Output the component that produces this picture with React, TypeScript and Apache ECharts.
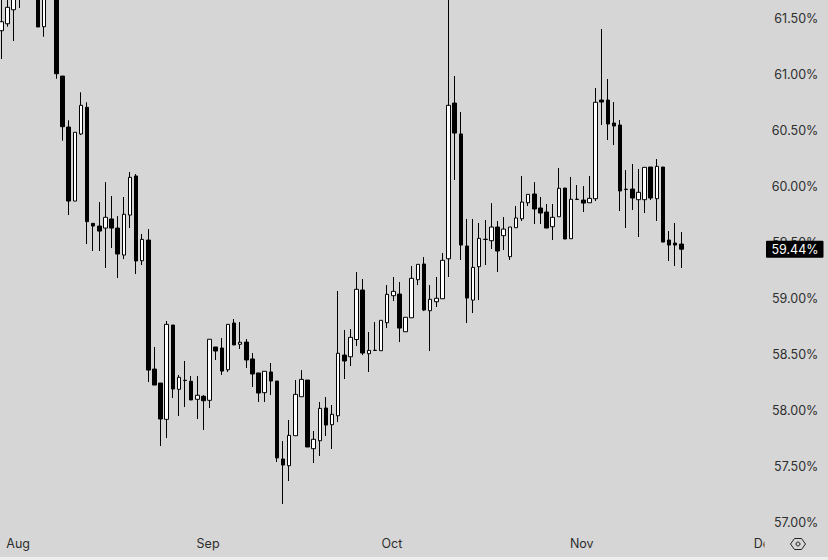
import { useEffect, useRef } from 'react'
import * as echarts from 'echarts'

const monthNames = ['Jul', 'Aug', 'Sep', 'Oct', 'Nov', 'Dec']
const monthDays = [31, 31, 30, 31, 30, 31]
const lastPrice = 59.44

// the candles in the top left corner run off the picture, their tops are guesses
const opens = [
  61.391, 61.453, 61.578, 61.72, 61.85, 61.95, 61.88, 61.427, 61.8, 61.95,
  60.986, 60.531, 59.87, 60.469, 60.707, 59.671, 59.647, 59.629, 59.71, 59.629,
  59.388, 59.745, 60.094, 59.337, 59.522, 58.37, 58.245, 57.921, 58.763, 58.189,
  58.27, 58.261, 58.1, 58.127, 58.091, 58.567, 58.558, 58.364, 58.781, 58.591,
  58.611, 58.46, 58.335, 58.159, 58.344, 58.263, 57.567, 57.507, 57.775, 58.123,
  58.272, 57.659, 57.73, 58.022, 57.873, 57.953, 58.495, 58.48, 58.634, 59.076,
  58.507, 58.536, 58.534, 58.784, 59.025, 59.04, 58.703, 58.828, 59.168, 59.308,
  58.891, 58.971, 58.998, 59.355, 60.745, 60.469, 59.469, 58.986, 59.284, 59.527,
  59.516, 59.638, 59.561, 59.373, 59.632, 59.712, 59.855, 59.933, 59.808, 59.772,
  59.641, 59.73, 59.986, 59.534, 59.884, 59.879, 59.855, 59.891, 60.772, 60.772,
  60.567, 60.549, 59.976, 59.977, 59.882, 59.882, 60.174, 59.891, 60.174, 59.522,
  59.495, 59.486,
]
const closes = [
  61.471, 61.6, 61.71, 61.9, 61.95, 61.85, 61.424, 61.8, 61.95, 61.007,
  60.534, 59.87, 60.484, 60.725, 59.686, 59.647, 59.602, 59.725, 59.629, 59.397,
  59.752, 60.082, 59.335, 59.528, 58.361, 58.227, 57.924, 58.769, 58.192, 58.296,
  58.267, 58.094, 58.136, 58.087, 58.636, 58.531, 58.352, 58.769, 58.585, 58.609,
  58.451, 58.326, 58.156, 58.35, 58.263, 57.576, 57.513, 57.778, 58.144, 58.278,
  57.674, 57.743, 58.019, 57.87, 57.966, 58.511, 58.442, 58.653, 59.082, 58.513,
  58.537, 58.538, 58.805, 59.037, 59.064, 58.736, 58.832, 59.18, 59.305, 58.897,
  58.993, 59.002, 59.341, 60.725, 60.477, 59.477, 59.004, 59.278, 59.537, 59.529,
  59.638, 59.424, 59.62, 59.638, 59.719, 59.861, 59.93, 59.799, 59.763, 59.629,
  59.725, 59.984, 59.531, 59.886, 59.887, 59.852, 59.894, 60.752, 60.754, 60.558,
  60.54, 59.96, 59.973, 59.897, 59.948, 60.171, 59.897, 60.18, 59.504, 59.477,
  59.477, 59.44,
]
const lows = [
  61.138, 61.427, 61.299, 61.594, 61.75, 61.75, 61.424, 61.337, 61.72, 60.962,
  60.409, 59.745, 59.87, 60.46, 59.486, 59.424, 59.424, 59.272, 59.451, 59.183,
  59.352, 59.629, 59.219, 59.299, 58.254, 58.227, 57.683, 57.754, 58.111, 57.951,
  58.031, 58.094, 57.924, 57.826, 58.022, 58.451, 58.317, 58.344, 58.585, 58.549,
  58.379, 58.21, 58.076, 58.076, 58.138, 57.54, 57.165, 57.37, 57.775, 58.123,
  57.674, 57.531, 57.594, 57.772, 57.656, 57.897, 58.281, 58.397, 58.576, 58.495,
  58.344, 58.536, 58.534, 58.736, 58.977, 58.611, 58.703, 58.828, 59.12, 58.888,
  58.531, 58.924, 58.998, 59.192, 60.058, 59.344, 58.781, 58.87, 58.986, 59.299,
  59.442, 59.236, 59.433, 59.344, 59.632, 59.692, 59.826, 59.665, 59.665, 59.629,
  59.522, 59.73, 59.531, 59.534, 59.884, 59.772, 59.855, 59.87, 60.549, 60.415,
  60.37, 59.781, 59.629, 59.79, 59.549, 59.763, 59.879, 59.692, 59.504, 59.335,
  59.29, 59.272,
]
const highs = [
  61.71, 61.71, 61.8, 61.95, 62.05, 62.0, 61.92, 61.85, 62.0, 62.0,
  60.986, 60.591, 60.484, 60.841, 60.752, 59.671, 59.861, 60.04, 59.915, 59.736,
  59.906, 60.129, 60.111, 59.576, 59.62, 58.567, 58.245, 58.799, 58.763, 58.317,
  58.442, 58.308, 58.308, 58.138, 58.636, 58.567, 58.647, 58.769, 58.817, 58.79,
  58.638, 58.513, 58.335, 58.35, 58.424, 58.263, 57.727, 57.915, 58.272, 58.361,
  58.272, 57.817, 58.076, 58.12, 58.049, 59.067, 58.719, 58.727, 59.236, 59.174,
  58.701, 58.79, 58.805, 59.12, 59.192, 59.147, 58.832, 59.29, 59.305, 59.37,
  59.12, 59.192, 59.406, 61.75, 60.986, 60.665, 59.71, 59.71, 59.674, 59.701,
  59.852, 59.692, 59.727, 59.638, 59.826, 60.094, 59.93, 60.04, 59.906, 59.844,
  59.844, 60.165, 59.986, 60.085, 60.013, 60.004, 60.094, 60.879, 61.406, 60.96,
  60.754, 60.594, 60.147, 60.201, 60.156, 60.171, 60.174, 60.245, 60.174, 59.602,
  59.674, 59.594,
]

// one category per calendar day, first candle on Jul 29
const categories: string[] = []
monthNames.forEach((name, m) => {
  for (let d = 1; d <= monthDays[m]; d++) {
    if (m > 0 || d >= 29) categories.push(name + ' ' + d)
  }
})
const shownDays = categories.slice(0, 136)

const candles = opens.map((o, i) => [o, closes[i], lows[i], highs[i]])

const BG = '#d6d6d6'
const FONT = 'Inter'
const TEXT = '#2e2e2e'

export default function App() {
  const chartRef = useRef<HTMLDivElement>(null)

  useEffect(() => {
    document.body.style.margin = '0'
    const chart = echarts.init(chartRef.current, null, { renderer: 'svg' })

    chart.setOption({
      animation: false,
      backgroundColor: BG,
      grid: { left: -1.76, width: 833.14, top: -37.5, height: 616, outerBoundsMode: 'none' },
      xAxis: {
        type: 'category',
        data: shownDays,
        axisLine: { show: false },
        axisTick: { show: false },
        splitLine: { show: false },
        axisLabel: {
          inside: true,
          margin: 29,
          color: TEXT,
          fontFamily: FONT,
          fontSize: 12.5,
          padding: [0, 3, 0, 0],
          interval: (_i: number, v: string) => v.endsWith(' 1'),
          formatter: (v: string) => v.split(' ')[0],
        },
      },
      yAxis: {
        type: 'value',
        position: 'right',
        min: 56.5,
        max: 62,
        interval: 0.5,
        axisLine: { show: false },
        axisTick: { show: false },
        splitLine: { show: false },
        axisLabel: {
          inside: true,
          margin: 13,
          showMinLabel: false,
          showMaxLabel: false,
          color: TEXT,
          fontFamily: FONT,
          fontSize: 12.5,
          formatter: (v: number) => v.toFixed(2) + '%',
        },
      },
      series: [
        {
          type: 'candlestick',
          data: candles,
          barWidth: 4,
          itemStyle: {
            color: '#ffffff',
            color0: '#000000',
            borderColor: '#000000',
            borderColor0: '#000000',
            borderColorDoji: '#000000',
            borderWidth: 1,
          },
        },
      ],
    })

    const tagY = chart.convertToPixel({ yAxisIndex: 0 }, lastPrice) as number
    chart.setOption({
      graphic: [
        // hides the end of the Dec label, like the price scale panel does
        { type: 'rect', z: 100, shape: { x: 764.5, y: 534, width: 64, height: 22 }, style: { fill: BG } },
        { type: 'rect', z: 100, shape: { x: 0, y: 557, width: 828, height: 3 }, style: { fill: '#efefef' } },
        {
          type: 'rect',
          z: 101,
          shape: { x: 766, y: tagY - 8.5, width: 57.5, height: 17, r: 1 },
          style: { fill: '#000000' },
        },
        {
          type: 'text',
          z: 102,
          x: 818.5,
          y: tagY,
          style: {
            text: lastPrice.toFixed(2) + '%',
            fill: '#ffffff',
            font: '12.5px ' + FONT,
            align: 'right',
            verticalAlign: 'middle',
          },
        },
        {
          type: 'polygon',
          z: 102,
          shape: {
            points: [
              [790.5, 544],
              [794.5, 538.5],
              [801.5, 538.5],
              [805.5, 544],
              [801.5, 549.5],
              [794.5, 549.5],
            ],
          },
          style: { fill: 'none', stroke: '#222222', lineWidth: 1 },
        },
        {
          type: 'circle',
          z: 102,
          shape: { cx: 798, cy: 544, r: 2 },
          style: { fill: 'none', stroke: '#222222', lineWidth: 1 },
        },
      ],
    })

    return () => {
      chart.dispose()
    }
  }, [])

  return <div ref={chartRef} style={{ width: 828, height: 560 }} />
}
